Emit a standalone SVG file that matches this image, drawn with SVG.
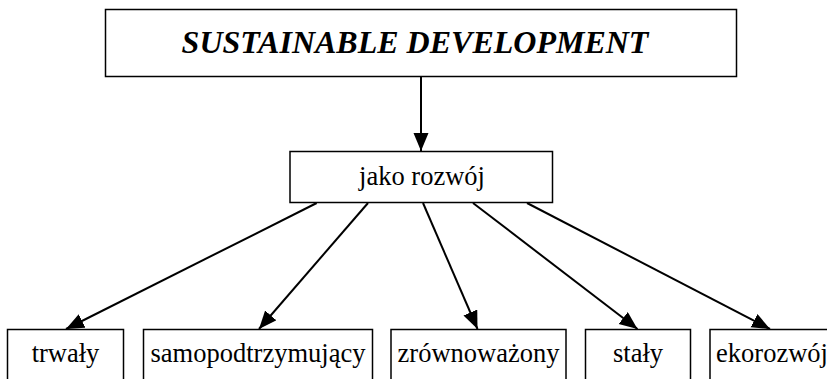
<svg xmlns="http://www.w3.org/2000/svg" width="827" height="379" viewBox="0 0 827 379">
<style>
.box{fill:#fff;stroke:#000;stroke-width:1.5}
.t{font-family:"Liberation Serif","Times New Roman",serif;font-size:26.5px;fill:#000;text-anchor:middle}
.title{font-family:"Liberation Serif","Times New Roman",serif;font-size:32px;font-weight:bold;font-style:italic;fill:#000;text-anchor:middle}
.c{stroke:#000;stroke-width:2;fill:none;marker-end:url(#ah)}
</style>
<defs>
<marker id="ah" markerUnits="userSpaceOnUse" markerWidth="20" markerHeight="16" refX="18" refY="7.5" orient="auto">
<path d="M0,0 L18,7.5 L0,15 Z" fill="#000"/>
</marker>
</defs>
<rect width="827" height="379" fill="#fff"/>
<g id="connectors">
<line class="c" x1="421" y1="77" x2="421" y2="151"/>
<line class="c" x1="316.7" y1="203" x2="66" y2="329"/>
<line class="c" x1="368" y1="203" x2="259" y2="329"/>
<line class="c" x1="423" y1="203" x2="477.5" y2="329"/>
<line class="c" x1="473" y1="203" x2="637.5" y2="329"/>
<line class="c" x1="527" y1="203" x2="770" y2="329"/>
</g>
<g id="n-title">
<rect class="box" x="105.5" y="9.5" width="631" height="67"/>
<text class="title" x="415" y="53">SUSTAINABLE DEVELOPMENT</text>
</g>
<g id="n-jako">
<rect class="box" x="290" y="151.5" width="262.5" height="51"/>
<text class="t" x="422" y="185">jako rozwój</text>
</g>
<g id="n-trwaly">
<rect class="box" x="7.5" y="329.5" width="116" height="60"/>
<text class="t" x="65.5" y="362">trwały</text>
</g>
<g id="n-samo">
<rect class="box" x="143.5" y="329.5" width="229" height="60"/>
<text class="t" x="258" y="362">samopodtrzymujący</text>
</g>
<g id="n-zrown">
<rect class="box" x="391" y="329.5" width="175" height="60"/>
<text class="t" x="478.5" y="362">zrównoważony</text>
</g>
<g id="n-staly">
<rect class="box" x="585.5" y="329.5" width="105" height="60"/>
<text class="t" x="638" y="362">stały</text>
</g>
<g id="n-eko">
<rect class="box" x="710" y="329.5" width="124" height="60"/>
<text class="t" x="772" y="362">ekorozwój</text>
</g>
</svg>
